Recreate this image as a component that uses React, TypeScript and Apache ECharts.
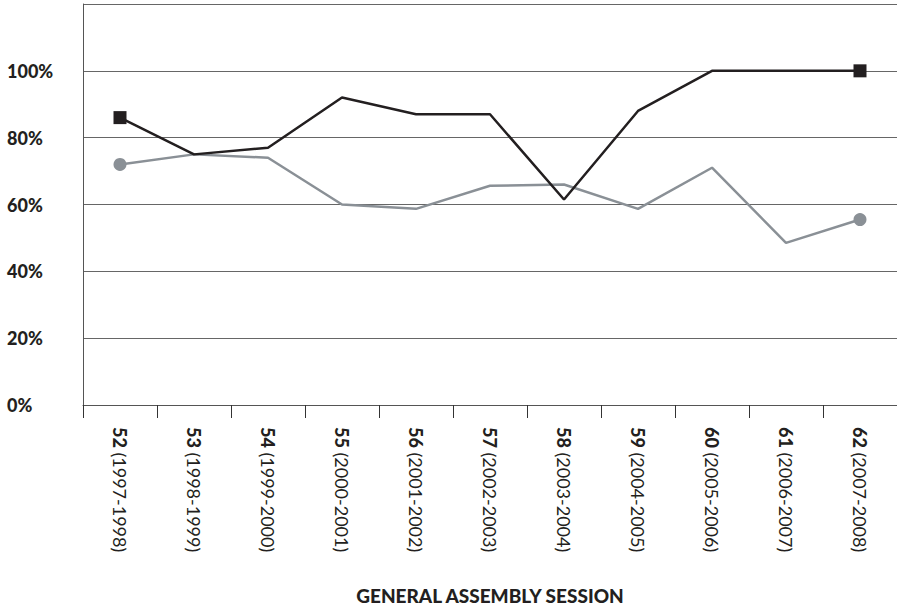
import React, { useEffect, useRef } from "react";
import * as echarts from "echarts";

const sessions = ["52", "53", "54", "55", "56", "57", "58", "59", "60", "61", "62"];
const years = [
  "1997-1998", "1998-1999", "1999-2000", "2000-2001", "2001-2002", "2002-2003",
  "2003-2004", "2004-2005", "2005-2006", "2006-2007", "2007-2008",
];
const blackSeries = [86, 75, 77, 92, 87, 87, 61.5, 88, 100, 100, 100];
const graySeries = [72, 75, 74, 60, 58.7, 65.6, 66, 58.7, 71, 48.5, 55.5];
const yTicks = [0, 20, 40, 60, 80, 100, 120];

export default function App() {
  const ref = useRef<HTMLDivElement>(null);
  useEffect(() => {
    if (!ref.current) return;
    const chart = echarts.init(ref.current, undefined, { renderer: "svg" });
    const categories = sessions.map((s, i) => s + "|" + years[i]);
    const lastIdx = sessions.length - 1;
    const markerData = (vals: number[], sym: string, size: number) =>
      vals.map((v, i) => ({
        value: v,
        symbol: i === 0 || i === lastIdx ? sym : "none",
        symbolSize: size,
      }));
    chart.setOption({
      animation: false,
      grid: {
        left: 83,
        right: 0,
        top: 4,
        bottom: 203,
        containLabel: false,
        outerBoundsMode: "none",
      },
      xAxis: {
        type: "category",
        data: categories,
        boundaryGap: true,
        name: "GENERAL ASSEMBLY SESSION",
        nameLocation: "middle",
        nameGap: 181,
        nameTextStyle: {
          fontFamily: "Lato",
          fontWeight: 900,
          fontSize: 19,
          color: "#231f20",
        },
        axisLine: { show: true, lineStyle: { color: "#555", width: 1 } },
        axisTick: { show: true, length: 13, lineStyle: { color: "#333", width: 1 } },
        axisLabel: {
          rotate: -90,
          margin: 22,
          interval: 0,
          fontFamily: "Lato",
          fontSize: 18,
          color: "#231f20",
          formatter: (v: string) => {
            const [s, y] = v.split("|");
            return "{b|" + s + "} (" + y + ")";
          },
          rich: {
            b: { fontFamily: "Lato", fontWeight: 900, fontSize: 18, color: "#231f20" },
          },
        },
      },
      yAxis: {
        type: "value",
        min: yTicks[0],
        max: yTicks[yTicks.length - 1],
        interval: 20,
        axisLine: { show: true, lineStyle: { color: "#555", width: 1 } },
        axisTick: { show: false },
        splitLine: { show: true, lineStyle: { color: "#666", width: 1 } },
        axisLabel: {
          align: "left",
          margin: 76,
          fontFamily: "Lato",
          fontWeight: 900,
          fontSize: 18,
          color: "#231f20",
          formatter: (v: number) => (v >= 120 ? "" : v + "%"),
        },
      },
      series: [
        {
          type: "line",
          data: markerData(graySeries, "circle", 13),
          lineStyle: { color: "#8a9096", width: 2.5 },
          itemStyle: { color: "#8a9096" },
          showSymbol: true,
          z: 2,
        },
        {
          type: "line",
          data: markerData(blackSeries, "rect", 13),
          lineStyle: { color: "#231f20", width: 2.5 },
          itemStyle: { color: "#231f20" },
          showSymbol: true,
          z: 3,
        },
      ],
    });
    return () => chart.dispose();
  }, []);
  return (
    <div
      ref={ref}
      style={{ position: "fixed", left: 0, top: 0, width: 897, height: 608, background: "#fff" }}
    />
  );
}
